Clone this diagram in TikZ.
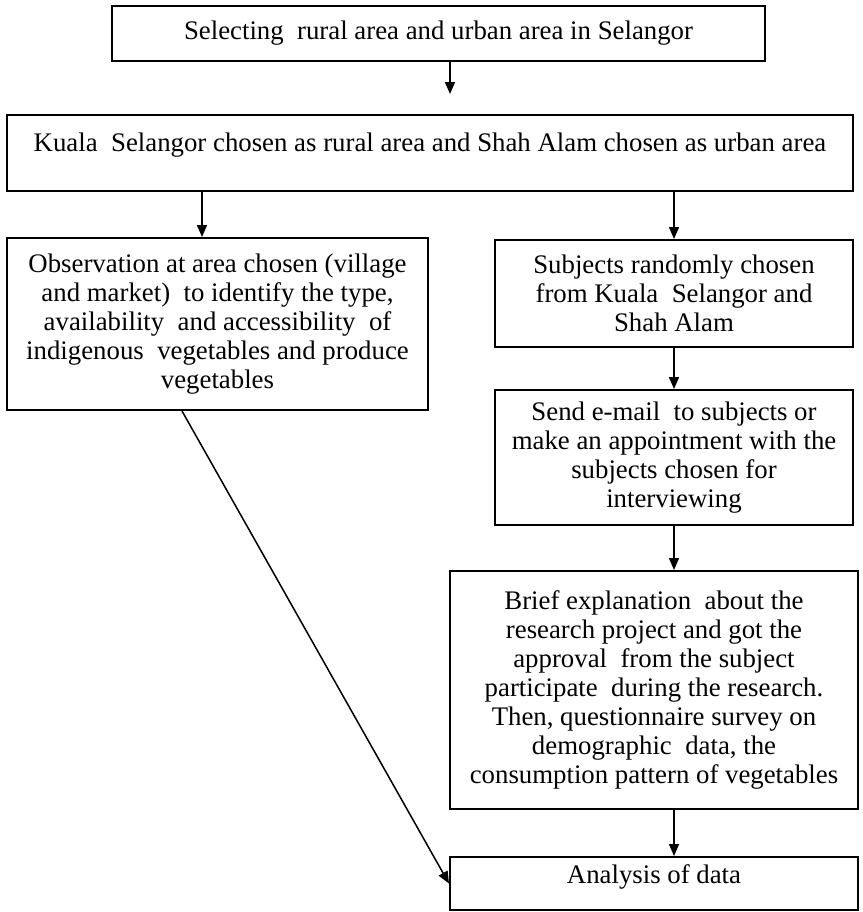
\documentclass[tikz,border=0pt]{standalone}
\usepackage{fontspec}
\setmainfont{Liberation Serif}
\usepackage{tikz}
\usetikzlibrary{arrows.meta, calc, positioning}

\begin{document}
\begin{tikzpicture}[x=0.5pt,y=-0.5pt,
    box/.style={draw,line width=1pt,rectangle,align=center,inner sep=0pt,
                font=\fontsize{13.4}{14.5}\selectfont},
    arr/.style={-{Triangle[length=6pt,width=5pt]},line width=0.75pt}]
\useasboundingbox (0,0) rectangle (863,912);
% boxes
\node[box,minimum width=326.5pt,minimum height=27.5pt] (sel) at (438.5,33.5)
    {Selecting\ \ rural area and urban area in Selangor};
\node[box,minimum width=423pt,minimum height=38pt,text depth=11pt] (chosen) at (430,153)
    {Kuala\ \ Selangor chosen as rural area and Shah Alam chosen as urban area};
\node[box,minimum width=210.5pt,minimum height=86pt] (obs) at (217.5,324)
    {Observation at area chosen (village\\ and market)\ \ to identify the type,\\
     availability\ \ and accessibility\ \ of\\ indigenous\ \ vegetables and produce\\ vegetables};
\node[box,minimum width=179pt,minimum height=53.5pt] (subj) at (674,293.5)
    {Subjects randomly chosen\\ from Kuala\ \ Selangor and\\ Shah Alam};
\node[box,minimum width=179pt,minimum height=67.5pt] (mail) at (674,457.5)
    {Send e-mail\ \ to subjects or\\ make an appointment with the\\ subjects chosen for\\ interviewing};
\node[box,minimum width=204pt,minimum height=119pt] (brief) at (654,690)
    {Brief explanation\ \ about the\\ research project and got the\\ approval\ \ from the subject\\
     participate\ \ during the research.\\ Then, questionnaire survey on\\
     demographic\ \ data, the\\ consumption pattern of vegetables};
\node[box,minimum width=204pt,minimum height=26.5pt,text depth=9pt] (anal) at (654,883.5)
    {Analysis of data};
% connectors
\coordinate (s1) at ($(sel.south)+(11.5,0)$);
\coordinate (s2) at ($(obs.north)+(-15.5,0)$);
\draw[arr,shorten >=10pt] (s1) -- (s1 |- chosen.north);
\draw[arr] (s2 |- chosen.south) -- (s2);
\draw[arr] (chosen.south -| subj.north) -- (subj.north);
\draw[arr] (subj) -- (mail);
\draw[arr] (mail.south) -- (brief.north -| mail.south);
\draw[arr] (brief.south -| mail.south) -- (anal.north -| mail.south);
\draw[arr] ([xshift=-17.75pt]obs.south) -- (anal.west);
\end{tikzpicture}
\end{document}
